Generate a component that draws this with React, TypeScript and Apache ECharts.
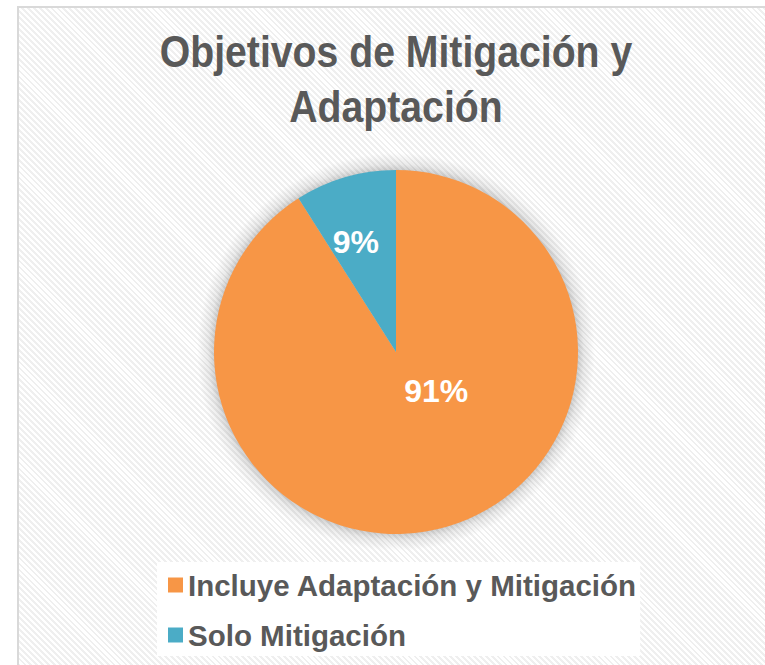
import React, { useEffect, useRef } from "react";
import * as echarts from "echarts";

const categories = ["Incluye Adaptación y Mitigación", "Solo Mitigación"];
const values = [91, 9];
const colors = ["#F79646", "#4BACC6"];
const titleText = "Objetivos de Mitigación y\nAdaptación";

const FONT = '"Liberation Sans", Arial, sans-serif';

export default function App() {
  const ref = useRef<HTMLDivElement>(null);
  useEffect(() => {
    if (!ref.current) return;
    const chart = echarts.init(ref.current, undefined, { renderer: "svg" });
    const labelOffsets: [number, number][] = [[14, -51], [-14, -20]];
    chart.setOption({
      animation: false,
      backgroundColor: "transparent",
      graphic: [
        {
          type: "text",
          x: 396,
          y: 24,
          scaleX: 0.871,
          originX: 0,
          style: {
            text: titleText,
            align: "center",
            verticalAlign: "top",
            fontFamily: FONT,
            fontWeight: "bold",
            fontSize: 45,
            lineHeight: 55,
            fill: "#595959",
          },
        },
      ],
      legend: {
        orient: "vertical",
        left: 157,
        top: 562,
        backgroundColor: "#ffffff",
        padding: [8, 3, 6, 11],
        itemWidth: 15,
        itemHeight: 15,
        itemGap: 20,
        icon: "rect",
        textStyle: {
          fontFamily: FONT,
          fontWeight: "bold",
          fontSize: 29.5,
          lineHeight: 30,
          color: "#595959",
        },
        data: categories,
      },
      series: [
        {
          type: "pie",
          center: [396, 352],
          radius: 182,
          startAngle: 90,
          clockwise: true,
          silent: true,
          label: {
            show: true,
            position: "inside",
            formatter: "{d}%",
            fontFamily: FONT,
            fontWeight: "bold",
            fontSize: 32,
            color: "#ffffff",
          },
          labelLine: { show: false },
          data: categories.map((name, i) => ({
            name,
            value: values[i],
            itemStyle: { color: colors[i] },
            label: { offset: labelOffsets[i] },
          })),
        },
      ],
    });
    return () => chart.dispose();
  }, []);

  return (
    <div
      style={{
        position: "fixed",
        left: 0,
        top: 0,
        width: 765,
        height: 665,
        background: "#ffffff",
      }}
    >
      <div
        style={{
          position: "absolute",
          left: 17,
          top: 6,
          width: 765,
          height: 665,
          border: "2px solid #d9d9d9",
          boxSizing: "border-box",
          backgroundColor: "#ffffff",
          backgroundImage:
            "radial-gradient(circle at 377px 344px, rgba(0,0,0,0.18) 0px, rgba(0,0,0,0.18) 182px, rgba(0,0,0,0.08) 188px, rgba(0,0,0,0) 199px), repeating-linear-gradient(45deg, #ffffff 0px, #ffffff 2.2px, #efefef 2.2px, #efefef 4.2px)",
        }}
      />
      <div ref={ref} style={{ position: "absolute", left: 0, top: 0, width: 765, height: 665 }} />
    </div>
  );
}
